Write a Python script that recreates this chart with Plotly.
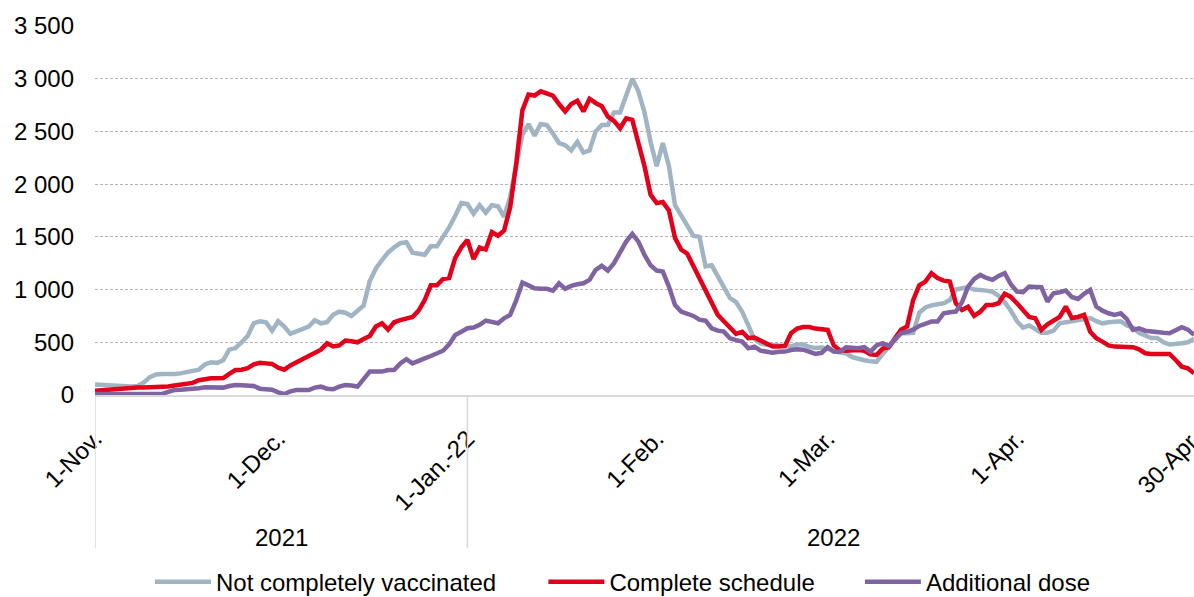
import pandas as pd
import plotly.graph_objs as go

# daily values, 1 Nov 2021 -> 30 Apr 2022
not_vaccinated = [
    100, 95, 90, 85, 80, 78, 80, 85, 120, 170,
    195, 200, 195, 200, 205, 220, 235, 240, 290, 310,
    305, 330, 430, 445, 500, 560, 680, 700, 690, 610,
    700, 650, 580, 600, 630, 650, 710, 680, 690, 760,
    790, 780, 750, 800, 850, 1080, 1200, 1280, 1350, 1400,
    1440, 1450, 1350, 1340, 1330, 1410, 1410, 1500, 1590, 1700,
    1820, 1810, 1720, 1800, 1730, 1800, 1790, 1690, 1880, 2180,
    2470, 2570, 2460, 2570, 2560, 2480, 2390, 2370, 2320, 2400,
    2300, 2320, 2500, 2560, 2560, 2680, 2680, 2840, 3000, 2880,
    2680, 2400, 2170, 2390, 2170, 1800, 1700, 1620, 1510, 1500,
    1220, 1230, 1130, 1020, 920, 880, 790, 660, 530, 490,
    475, 475, 470, 460, 460, 480, 480, 455, 445, 450,
    440, 415, 400, 395, 360, 340, 330, 320, 315, 390,
    460, 530, 585, 585, 590, 780, 830, 850, 860, 870,
    900, 1000, 1013, 1020, 1000, 1000, 990, 980, 940, 880,
    800, 700, 640, 660, 620, 590, 590, 610, 680, 690,
    700, 710, 730, 730, 700, 680, 690, 700, 700, 660,
    640, 590, 560, 540, 540, 500, 480, 480, 490, 500,
    530,
]

complete_schedule = [
    40, 45, 55, 60, 65, 70, 70, 72, 72, 75,
    72, 72, 80, 90, 100, 105, 115, 140, 150, 158,
    158, 160, 200, 237, 240, 255, 290, 305, 300, 295,
    260, 240, 280, 310, 340, 370, 400, 430, 490, 460,
    470, 516, 510, 500, 530, 560, 650, 680, 620, 690,
    710, 728, 740, 800, 900, 1040, 1040, 1100, 1110, 1300,
    1400, 1470, 1290, 1400, 1380, 1545, 1510, 1560, 1780, 2200,
    2700, 2850, 2840, 2880, 2860, 2840, 2760, 2690, 2760, 2790,
    2690, 2810, 2770, 2740, 2640, 2600, 2530, 2625, 2610, 2400,
    2170, 1900, 1820, 1830, 1750, 1490, 1380, 1340, 1220, 1100,
    1000, 870, 760, 700, 640, 580, 600, 540, 545, 515,
    490, 460, 460, 465, 585, 630, 645, 645, 630, 625,
    617, 470, 425, 420, 427, 427, 420, 385, 380, 440,
    453, 540, 620, 650, 900, 1040, 1076, 1155, 1110, 1085,
    1076, 870, 807, 838, 750, 790, 854, 854, 870, 960,
    930, 870, 800, 740, 728, 617, 670, 710, 740, 838,
    730, 740, 760, 600, 538, 506, 470, 459, 459, 455,
    453, 433, 396, 390, 389, 389, 389, 332, 269, 253,
    206,
]

additional_dose = [
    10, 10, 10, 10, 10, 10, 10, 10, 10, 10,
    10, 10, 30, 47, 50, 52, 54, 65, 73, 72,
    70, 70, 85, 95, 92, 88, 85, 60, 54, 50,
    25, 10, 35, 47, 47, 47, 70, 79, 60, 55,
    80, 95, 90, 80, 150, 222, 222, 222, 237, 237,
    300, 340, 300, 330, 348, 370, 390, 420, 480, 570,
    600, 633, 640, 665, 705, 690, 680, 728, 760, 900,
    1066, 1040, 1013, 1007, 1007, 990, 1060, 1007, 1035, 1050,
    1060, 1092, 1187, 1225, 1180, 1250, 1345, 1455, 1528, 1455,
    1329, 1230, 1180, 1171, 1028, 854, 791, 770, 750, 715,
    705, 633, 610, 601, 538, 520, 506, 443, 459, 421,
    410, 402, 410, 412, 427, 434, 430, 412, 389, 400,
    453, 412, 411, 453, 445, 443, 453, 411, 470, 491,
    465, 530, 586, 600, 620, 655, 680, 696, 696, 775,
    785, 791, 880, 1028, 1100, 1139, 1110, 1092, 1130, 1155,
    1050, 981, 975, 1028, 1025, 1022, 886, 965, 975, 990,
    930, 910, 960, 997, 838, 800, 775, 760, 775, 719,
    617, 633, 610, 601, 601, 590, 586, 617, 643, 620,
    570,
]

dates = pd.date_range('2021-11-01', '2022-04-30', freq='D')

x_tick_dates = ['2021-11-01', '2021-12-01', '2022-01-01', '2022-02-01', '2022-03-01', '2022-04-01', '2022-04-30']
x_tick_labels = ['1-Nov.', '1-Dec.', '1-Jan.-22', '1-Feb.', '1-Mar.', '1-Apr.', '30-Apr.']
y_tick_vals = [0, 500, 1000, 1500, 2000, 2500, 3000, 3500]
y_tick_labels = ['0', '500', '1 000', '1 500', '2 000', '2 500', '3 000', '3 500']

years = ['2021', '2022']
year_centres = ['2021-12-01 12:00', '2022-03-02']
year_bounds = ['2021-11-01', '2022-01-01']

font = dict(family='Liberation Sans, Arial, sans-serif', size=24, color='#000000')

series = [
    ('Not completely vaccinated', not_vaccinated, '#a0b4c3', 'legend', 0.05),
    ('Complete schedule', complete_schedule, '#e2001a', 'legend2', 0.408),
    ('Additional dose', additional_dose, '#8064a2', 'legend3', 0.696),
]

fig = go.Figure()
legends = {}
for name, values, colour, leg, lx in series:
    fig.add_trace(go.Scatter(x=dates, y=values, name=name, mode='lines', legend=leg,
                             line=dict(color=colour, width=4.5)))
    legends[leg] = dict(orientation='h', x=lx, xanchor='left', y=-0.507, yanchor='middle',
                        font=font, itemwidth=56, bgcolor='rgba(0,0,0,0)')

# year separators under the axis
for b in year_bounds:
    fig.add_shape(type='line', xref='x', yref='paper', x0=b, x1=b, y0=0, y1=-0.415,
                  line=dict(color='#d9d9d9', width=1.5))

for yr, c in zip(years, year_centres):
    fig.add_annotation(x=c, y=-0.385, xref='x', yref='paper', text=yr, showarrow=False,
                       font=font, yanchor='middle')

fig.update_layout(
    width=1194, height=597,
    margin=dict(l=95, r=0, t=26, b=202, autoexpand=False),
    plot_bgcolor='white', paper_bgcolor='white',
    font=font,
    showlegend=True,
    xaxis=dict(type='date', range=['2021-11-01', '2022-04-30'],
               tickvals=x_tick_dates, ticktext=x_tick_labels, tickangle=-45,
               ticklabeloverflow='allow', ticklabelstandoff=18,
               showgrid=False, showline=True, linecolor='#d9d9d9', linewidth=2,
               ticks='', zeroline=False, tickfont=font),
    yaxis=dict(range=[0, 3500], tickvals=y_tick_vals, ticktext=y_tick_labels,
               showgrid=True, gridcolor='#b3b3b3', gridwidth=1, griddash='3px,2px',
               zeroline=False, showline=False, ticks='', ticklabelstandoff=20,
               tickfont=font),
    **legends,
)

# drop the default page margin so the figure sits at the window corner
fig.write_html("out.html", config={'displayModeBar': False},
               post_script="document.body.style.margin='0';document.body.style.overflow='hidden';")
